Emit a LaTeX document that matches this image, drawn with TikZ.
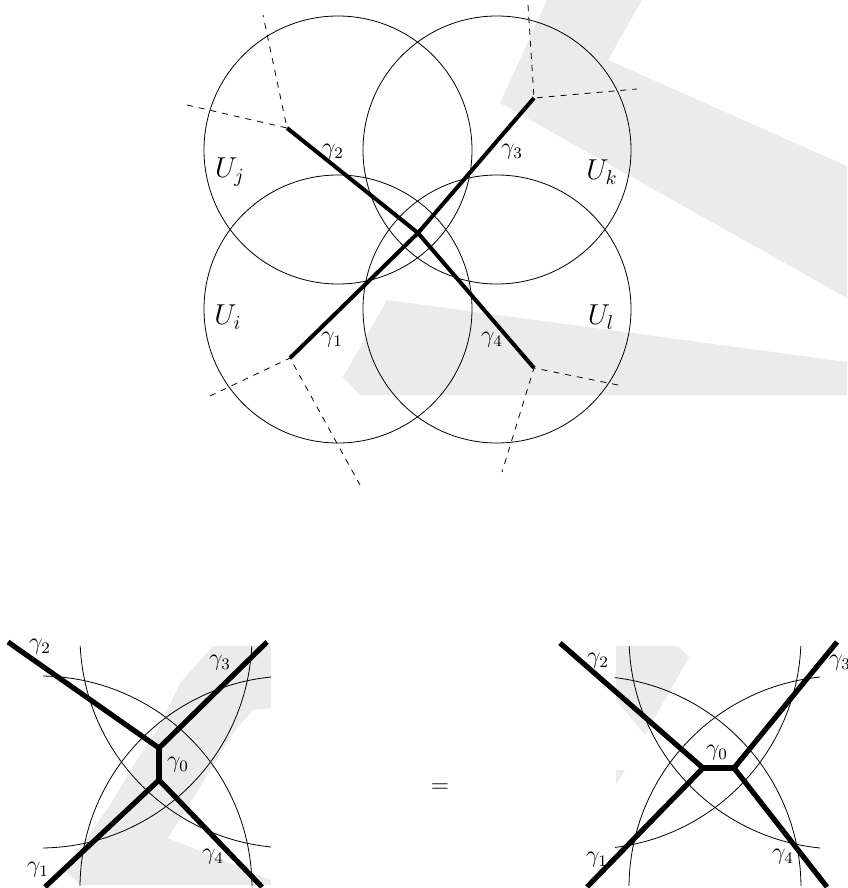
\documentclass[tikz,border=0pt]{standalone}
\usepackage{tikz}
\usetikzlibrary{positioning}
\usepackage{xcolor}
\definecolor{markgray}{RGB}{235,235,235}
\definecolor{lineblack}{RGB}{0,0,0}
\tikzset{
  chart/.style={draw=lineblack, line width=0.4pt},
  cutline/.style={draw=lineblack, dashed, line width=0.4pt},
  gammaline/.style={draw=lineblack, line width=2pt, line join=round},
  biggamma/.style={draw=lineblack, line width=2.6pt, line join=round},
  glabel/.style={font=\large, inner sep=0pt},
  ulabel/.style={font=\Large, inner sep=0pt}
}

\begin{document}
\begin{tikzpicture}[x=0.5pt,y=-0.5pt]
\useasboundingbox (0,0) rectangle (847,888);

% light background marks
\fill[markgray] (547,0) -- (642,0) -- (608,60) -- (847,166) -- (847,298) -- (500,103) -- cycle;
\fill[markgray] (387,300) -- (847,362) -- (847,395) -- (360,395) -- (343,377) -- cycle;

% top: the four charts
\draw[chart] (338,150) circle[radius=67pt];
\draw[chart] (497,150) circle[radius=67pt];
\draw[chart] (338,309) circle[radius=67pt];
\draw[chart] (497,309) circle[radius=67pt];
\node[ulabel] (uj) at (230,172) {$U_j$};
\node[ulabel] (uk) at (602,172) {$U_k$};
\node[ulabel] (ui) at (228,317) {$U_i$};
\node[ulabel] (ul) at (601,317) {$U_l$};

\coordinate (o) at (418,233);
\coordinate (e1) at (290,358);
\coordinate (e2) at (287,128);
\coordinate (e3) at (534,98);
\coordinate (e4) at (534,368);
\coordinate (c1a) at (210,396);
\coordinate (c1b) at (360,485);
\coordinate (c2a) at (187,105);
\coordinate (c2b) at (263,15);
\coordinate (c3a) at (528,5);
\coordinate (c3b) at (637,89);
\coordinate (c4a) at (618,385);
\coordinate (c4b) at (502,472);
\draw[cutline] (c1a) -- (e1) -- (c1b);
\draw[cutline] (c2a) -- (e2) -- (c2b);
\draw[cutline] (c3a) -- (e3) -- (c3b);
\draw[cutline] (c4a) -- (e4) -- (c4b);
\draw[gammaline] (e1) -- (o) -- (e3);
\draw[gammaline] (e2) -- (o) -- (e4);
\node[glabel] (g1) at (332,340) {$\gamma_1$};
\node[glabel] (g2) at (333,152) {$\gamma_2$};
\node[glabel] (g3) at (512,152) {$\gamma_3$};
\node[glabel] (g4) at (492,340) {$\gamma_4$};

% bottom left: zoom with vertical gamma_0
\begin{scope}
\clip (43,646) rectangle (271,885);
\fill[markgray] (213,646) -- (271,646) -- (271,708) -- (253,710) -- (233,733) -- (200,787)
  -- (168,838) -- (271,880) -- (271,885) -- (80,885) -- (67,872) -- (85,841) -- (110,805)
  -- (135,763) -- (160,725) -- (180,683) -- cycle;
\draw[chart] (40,636) circle[radius=106pt];
\draw[chart] (292,636) circle[radius=106pt];
\draw[chart] (40,888) circle[radius=106pt];
\draw[chart] (292,888) circle[radius=106pt];
\end{scope}
\coordinate (lt) at (159,748);
\coordinate (lb) at (159,780);
\coordinate (l1) at (45,887);
\coordinate (l2) at (8,642);
\coordinate (l3) at (267,642);
\coordinate (l4) at (262,887);
\draw[biggamma] (l2) -- (lt) -- (l3);
\draw[biggamma] (lt) -- (lb);
\draw[biggamma] (l1) -- (lb) -- (l4);
\node[glabel] (lg0) at (178,765) {$\gamma_0$};
\node[glabel] (lg1) at (38,870) {$\gamma_1$};
\node[glabel] (lg2) at (40,647) {$\gamma_2$};
\node[glabel] (lg3) at (220,663) {$\gamma_3$};
\node[glabel] (lg4) at (213,857) {$\gamma_4$};

\node[font=\large] (eq) at (440,788) {$=$};

% bottom right: zoom with horizontal gamma_0
\begin{scope}
\clip (615,646) rectangle (820,885);
\fill[markgray] (616,646) -- (678,646) -- (689,657) -- (645,735) -- (616,700) -- cycle;
\fill[markgray] (616,770) -- (625,770) -- (616,785) -- cycle;
\draw[chart] (589,637) circle[radius=106pt];
\draw[chart] (841,637) circle[radius=106pt];
\draw[chart] (589,888) circle[radius=106pt];
\draw[chart] (841,888) circle[radius=106pt];
\end{scope}
\coordinate (rl) at (703,768);
\coordinate (rr) at (734,768);
\coordinate (r1) at (587,887);
\coordinate (r2) at (560,643);
\coordinate (r3) at (837,642);
\coordinate (r4) at (827,887);
\draw[biggamma] (r2) -- (rl) -- (r1);
\draw[biggamma] (rl) -- (rr);
\draw[biggamma] (r3) -- (rr) -- (r4);
\node[glabel] (rg0) at (717,753) {$\gamma_0$};
\node[glabel] (rg1) at (597,860) {$\gamma_1$};
\node[glabel] (rg2) at (598,661) {$\gamma_2$};
\node[glabel] (rg3) at (840,663) {$\gamma_3$};
\node[glabel] (rg4) at (783,857) {$\gamma_4$};
\end{tikzpicture}
\end{document}
